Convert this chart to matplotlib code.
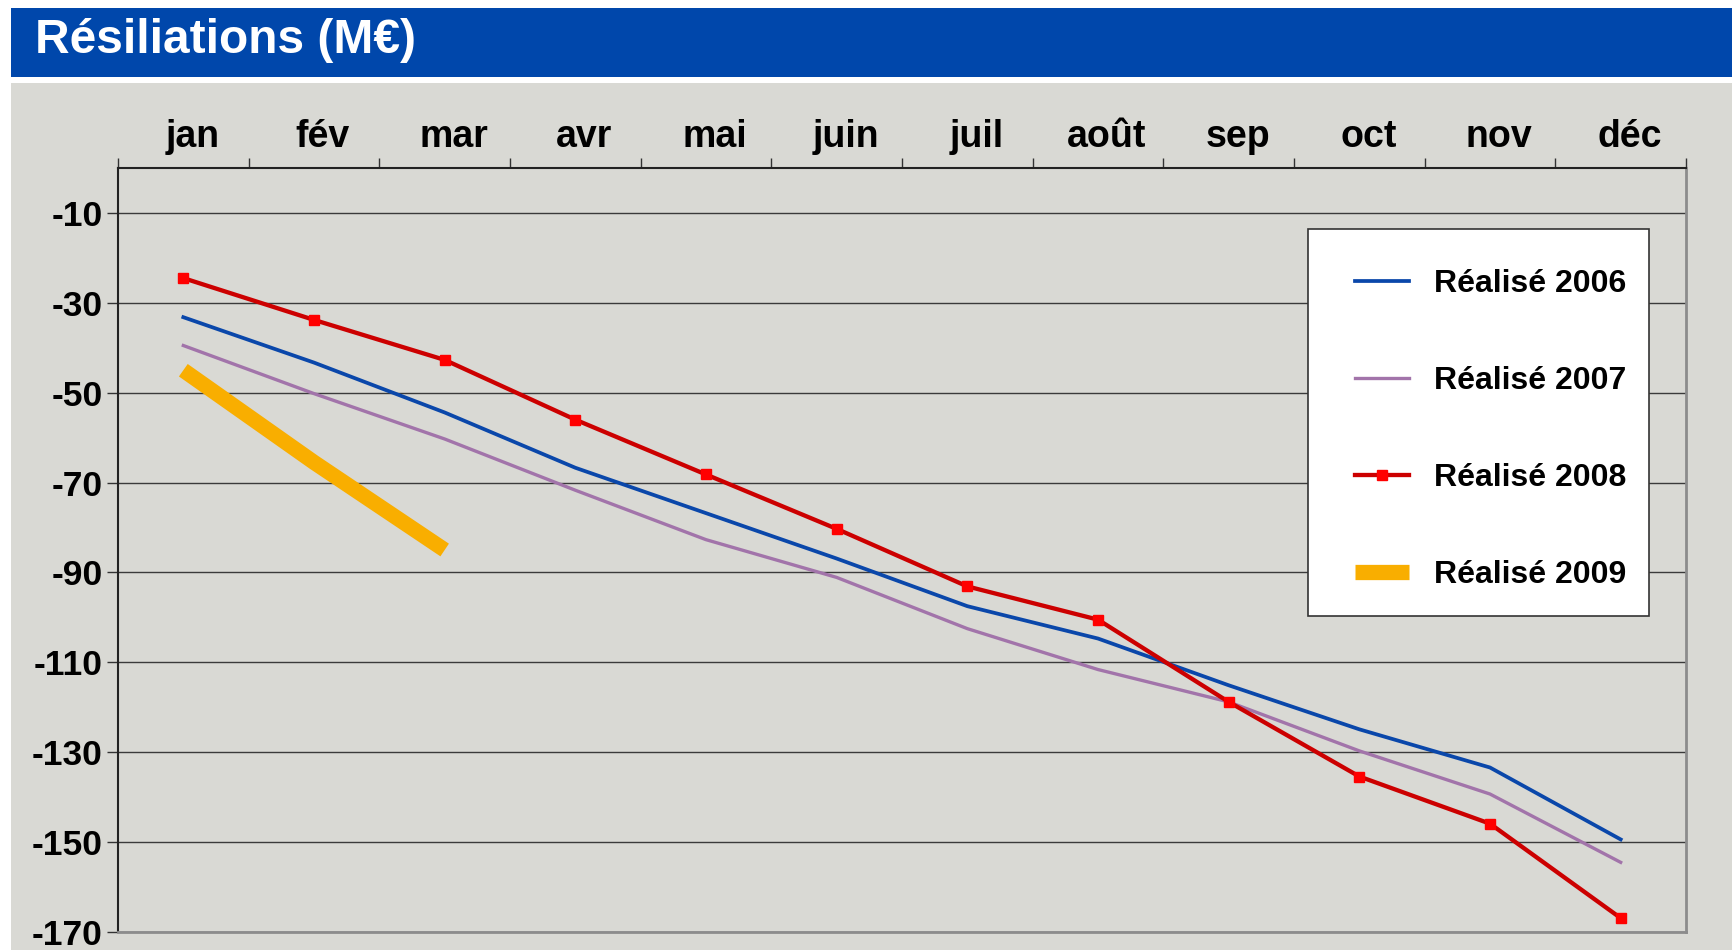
import matplotlib
matplotlib.use("Agg")
import matplotlib.pyplot as plt
from matplotlib.patches import Rectangle
from matplotlib.transforms import ScaledTranslation
import numpy as np

plt.rcParams['font.family'] = ['Liberation Sans', 'DejaVu Sans']

months = ['jan', 'fév', 'mar', 'avr', 'mai', 'juin', 'juil', 'août', 'sep', 'oct', 'nov', 'déc']
r2006 = [-33.2, -43.3, -54.4, -66.7, -76.8, -86.9, -97.5, -104.7, -115.1, -124.9, -133.4, -149.4]
r2007 = [-39.5, -50.2, -60.3, -71.7, -82.7, -91.1, -102.5, -111.6, -118.8, -129.7, -139.3, -154.5]
r2008 = [-24.5, -33.8, -42.7, -56.0, -68.2, -80.3, -93.1, -100.5, -118.8, -135.4, -145.9, -166.9]
r2009 = [-45.0, -65.5, -85.0]
yticks = [-10, -30, -50, -70, -90, -110, -130, -150, -170]

W, H = 1733, 950
fig = plt.figure(figsize=(W / 100, H / 100), dpi=100)
fig.patch.set_facecolor('white')

panel_col = '#D9D9D4'
# gray panel
fig.add_artist(Rectangle((11 / W, 0), 1 - 11 / W, 1 - 83 / H, transform=fig.transFigure,
                         facecolor=panel_col, edgecolor='none', zorder=-2))
# title bar
fig.add_artist(Rectangle((11 / W, 1 - 77 / H), 1 - 11 / W, 69 / H, transform=fig.transFigure,
                         facecolor='#0047AB', edgecolor='none', zorder=-2))
fig.text(35 / W, 1 - 53 / H, 'Résiliations (M€)', color='white', fontsize=34.5,
         fontweight='bold', ha='left', va='baseline')

left, right, top, bottom = 118, 1686, 168, 932
ax = fig.add_axes([left / W, 1 - bottom / H, (right - left) / W, (bottom - top) / H])
ax.set_facecolor(panel_col)

x = np.arange(len(months))
ax.plot(x, r2006, color='#0A47AA', lw=2.7, label='Réalisé 2006', zorder=3)
ax.plot(x, r2007, color='#A274AA', lw=2.4, label='Réalisé 2007', zorder=3)
ax.plot(x, r2008, color='#CC0000', lw=3.1, marker='s', markersize=7,
        markerfacecolor='#FF0000', markeredgecolor='#FF0000', label='Réalisé 2008', zorder=4)
ax.plot(x[:len(r2009)], r2009, color='#F9AE00', lw=11, solid_capstyle='butt',
        label='Réalisé 2009', zorder=5)

ax.set_xlim(-0.5, len(months) - 0.5)
ax.set_ylim(-170, 0)

ax.set_yticks(yticks)
ax.set_yticklabels([str(v) for v in yticks])
ax.yaxis.grid(True, color='#3A3A3A', lw=1.0)
ax.set_axisbelow(True)
ax.tick_params(axis='y', length=8, width=1, color='#333333', pad=3,
               labelsize=25.5, labelcolor='black')
for lab in ax.get_yticklabels():
    lab.set_fontweight('bold')

ax.xaxis.tick_top()
ax.set_xticks(np.arange(-0.5, len(months), 1.0))
ax.set_xticklabels([])
ax.set_xticks(x, minor=True)
ax.set_xticklabels(months, minor=True)
ax.tick_params(axis='x', which='major', length=7, width=1, color='#333333', top=True, bottom=False)
ax.tick_params(axis='x', which='minor', length=0, pad=9.5, labelsize=27, top=True, bottom=False)
shift = ScaledTranslation(9 / 100, 0, fig.dpi_scale_trans)
for lab in ax.get_xticklabels(minor=True):
    lab.set_fontweight('bold')
    lab.set_transform(lab.get_transform() + shift)

for s in ['left', 'top']:
    ax.spines[s].set_color('#222222')
    ax.spines[s].set_linewidth(1.5)
for s in ['right', 'bottom']:
    ax.spines[s].set_color('#8C8C8C')
    ax.spines[s].set_linewidth(2)

# legend box
bx0, bx1, by0, by1 = 1308, 1649, 229, 616
ax.add_patch(Rectangle(((bx0 - left) / (right - left), (bottom - by1) / (bottom - top)),
                       (bx1 - bx0) / (right - left), (by1 - by0) / (bottom - top),
                       transform=ax.transAxes, facecolor='white', edgecolor='#333333',
                       lw=1.2, zorder=6))
fs_leg = 23
leg_top = 269
leg = ax.legend(loc='upper left',
                bbox_to_anchor=((1355 - left) / (right - left), (bottom - leg_top) / (bottom - top)),
                borderaxespad=0, frameon=False, borderpad=0,
                prop={'weight': 'bold', 'size': fs_leg}, handlelength=1.69, handletextpad=0.78,
                labelspacing=2.10)
leg.set_zorder(7)

fig.savefig('out.png', dpi=100)
